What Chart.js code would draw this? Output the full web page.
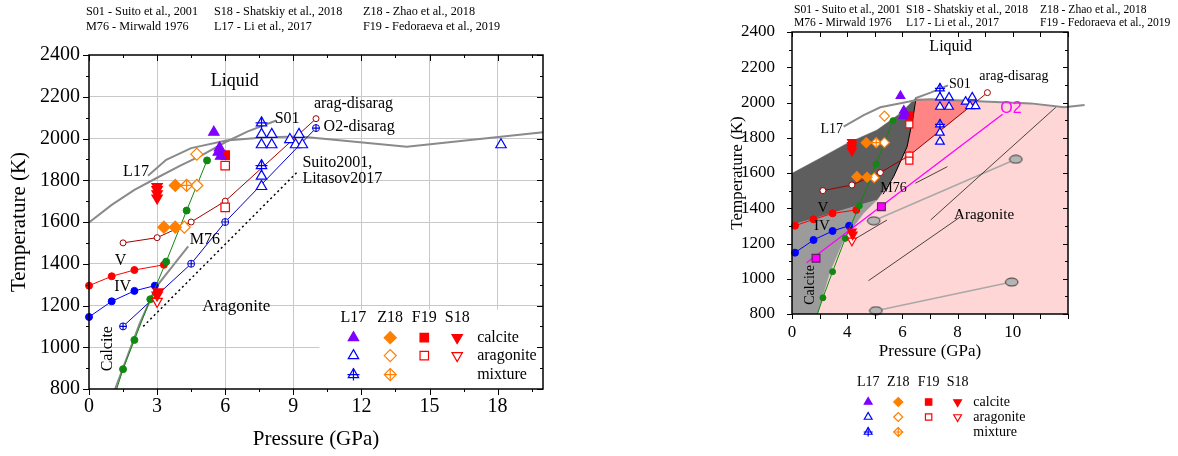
<!doctype html>
<html>
<head>
<meta charset="utf-8">
<title>CaCO3 phase diagram</title>
<script src="https://cdn.jsdelivr.net/npm/chart.js@4.4.1/dist/chart.umd.min.js"></script>
<style>
  body { margin: 0; background: #fff; }
  canvas { position: absolute; top: 0; }
</style>
</head>
<body>
<canvas id="left" width="590" height="456" style="left:0"></canvas>
<canvas id="right" width="588" height="456" style="left:590px"></canvas>
<script>
// ---------- left panel (P in GPa, T in K) ----------
var leftXTicks = [0, 3, 6, 9, 12, 15, 18];
var leftXMinor = [1.5, 4.5, 7.5, 10.5, 13.5, 16.5, 19.5];
var leftYTicks = [800, 1000, 1200, 1400, 1600, 1800, 2000, 2200, 2400];
var leftYMinor = [900, 1100, 1300, 1500, 1700, 1900, 2100, 2300];

var lS01 = [[0, 1598], [1, 1682], [2, 1754], [3, 1812], [4, 1869], [5, 1922], [6, 1982], [7, 2034], [8.25, 2086]];
var lL17 = [[2.6, 1821], [3.4, 1898], [4.5, 1954], [6.05, 1990], [7.8, 2006], [9.3, 2009], [14, 1961], [20, 2030]];
var lM76 = [[1.15, 800], [2.24, 1116], [2.97, 1291], [4.37, 1483]];
var lSuito = [[2.39, 1100], [9.2, 1842]];
var lV = [[0, 1295], [1, 1340], [2, 1370], [3.3, 1395]];
var lIV = [[0, 1145], [1, 1220], [2, 1270], [2.9, 1295]];
var lGreen = [[1.22, 800], [1.5, 895], [2, 1035], [2.7, 1230], [3.4, 1410], [4.3, 1655], [5.2, 1895]];
var lArag = [[1.5, 1500], [3, 1525], [4.5, 1600], [6, 1700], [10, 2095]];
var lO2 = [[1.5, 1100], [4.5, 1400], [6, 1600], [10, 2050]];

var lL17Calcite = [[5.5, 2030], [5.75, 1955], [5.7, 1935], [5.8, 1915]];
var lL17Arag = [[7.6, 2020], [8.05, 2020], [7.6, 1970], [8.05, 1970], [7.6, 1820], [7.6, 1770],
                [8.85, 1995], [9.25, 2020], [9.1, 1970], [9.4, 1970], [18.15, 1970]];
var lL17Mix = [[7.6, 2075], [7.6, 1870]];
var lZ18Calcite = [[3.8, 1775], [3.3, 1575], [3.8, 1575]];
var lZ18Arag = [[4.75, 1925], [4.75, 1775], [4.2, 1575]];
var lZ18Mix = [[4.3, 1775]];
var lF19Calcite = [[6, 1920]];
var lF19Arag = [[6, 1870], [6, 1670]];
var lS18Calcite = [[3, 1770], [3, 1755], [3, 1735], [3, 1715], [3.05, 1265], [3, 1250]];
var lS18Arag = [[3, 1220]];

// ---------- right panel ----------
var rightXTicks = [2, 4, 6, 8, 10];
var rightXLabels = ['0', '4', '6', '8', '10'];
var rightXMarks = [2, 3, 4, 5, 6, 7, 8, 9, 10, 11, 12];
var rightYTicks = [800, 1000, 1200, 1400, 1600, 1800, 2000, 2200, 2400];
var rightYMinor = [900, 1100, 1300, 1500, 1700, 1900, 2100, 2300];

var rPink = [[2.92, 800], [3.38, 1040], [3.87, 1220], [4.59, 1371], [5.08, 1447], [5.68, 1579], [6.17, 1749],
             [6.39, 1920], [6.47, 2020], [7.02, 2018], [10.65, 1995], [11.86, 1973], [12, 1975], [12, 800]];
var rSalmon = [[6.05, 1673], [6.17, 1749], [6.39, 1920], [6.47, 2020], [7.02, 2018], [8.75, 2012], [6.27, 1702]];
var rDark = [[2, 1598], [2.9, 1674], [3.99, 1768], [5.08, 1844], [5.93, 1939], [6.47, 2024], [6.39, 1920],
             [6.17, 1749], [5.68, 1579], [5.08, 1447], [2, 1305]];
var rMid = [[2, 1305], [5.08, 1447], [4.59, 1371], [3.87, 1220], [3.38, 1040], [2.92, 800], [2, 800]];

var rS01 = [[6.47, 2024], [7.02, 2056], [7.65, 2097]];
var rL17 = [[3.87, 1863], [4.6, 1929], [5.2, 1973], [6.53, 2014], [7.02, 2018], [10.65, 1995], [11.86, 1973], [12.6, 1986]];
var rBoundary = [[5.3, 1480], [5.68, 1579], [6.17, 1749], [6.39, 1920], [6.5, 2030]];
var rThin1 = [[4.11, 1210], [5.44, 1333]];
var rThin2 = [[4.77, 989], [8.11, 1352]];
var rThin3 = [[7.02, 1333], [11.56, 1973]];
var rThin4 = [[6.47, 1542], [7.63, 1636]];
var rGray1 = [[4.96, 1329], [10.11, 1678]];
var rGray2 = [[5.04, 819], [9.96, 981]];
var rV = [[2.11, 1301], [2.78, 1337], [3.47, 1371], [4.33, 1390]];
var rIV = [[2.11, 1148], [2.78, 1220], [3.47, 1271], [4.07, 1301]];
var rGreen = [[2.92, 800], [3.12, 892], [3.47, 1040], [3.93, 1229], [4.44, 1414], [5.05, 1651], [5.66, 1897]];
var rArag = [[3.12, 1500], [4.17, 1532], [5.2, 1602], [6.27, 1702], [9.08, 2056]];
var rO2 = [[2.53, 1091], [9.63, 1933]];
var rO2Points = [[2.87, 1116], [5.24, 1409]];

var rL17Calcite = [[5.93, 2037], [6.05, 1954], [6.03, 1923], [6.1, 1938]];
var rL17Arag = [[7.36, 2029], [7.69, 2029], [7.36, 1976], [7.69, 1976], [7.36, 1829], [7.36, 1778],
                [8.29, 2005], [8.53, 2029], [8.45, 1980], [8.65, 1980]];
var rL17Mix = [[7.36, 2080], [7.36, 1876]];
var rZ18Calcite = [[4.69, 1772], [4.35, 1579], [4.72, 1576]];
var rZ18Arag = [[5.35, 1923], [5.35, 1772], [4.98, 1573]];
var rZ18Mix = [[5.05, 1772]];
var rF19Calcite = [[6.25, 1925]];
var rF19Arag = [[6.25, 1876], [6.25, 1698], [6.25, 1670]];
var rS18Calcite = [[4.17, 1775], [4.17, 1758], [4.17, 1742], [4.17, 1725], [4.17, 1267], [4.2, 1250]];
var rS18Arag = [[4.17, 1216]];

// shared texts
var refLines = [
  ['S01 - Suito et al., 2001', 'S18 - Shatskiy et al., 2018', 'Z18 - Zhao et al., 2018'],
  ['M76 - Mirwald 1976', 'L17 - Li et al., 2017', 'F19 - Fedoraeva et al., 2019']
];
var legendSources = ['L17', 'Z18', 'F19', 'S18'];
var legendPhases = ['calcite', 'aragonite', 'mixture'];

var SERIF = '"Liberation Serif", "Times New Roman", serif';
var SANS = '"Liberation Sans", Arial, sans-serif';

// marker styles
var ST = {
  L17c: {shape: 'triangle', color: '#7f00ff', fill: '#7f00ff'},
  L17a: {shape: 'triangle', color: '#0000ff', fill: '#ffffff'},
  L17m: {shape: 'triangle', color: '#0000ff', fill: '#ffffff', cross: true},
  Z18c: {shape: 'rectRot', color: '#ff7f00', fill: '#ff7f00'},
  Z18a: {shape: 'rectRot', color: '#ff7f00', fill: '#ffffff'},
  Z18m: {shape: 'rectRot', color: '#ff7f00', fill: '#ffffff', cross: true},
  F19c: {shape: 'rect', color: '#ff0000', fill: '#ff0000'},
  F19a: {shape: 'rect', color: '#ff0000', fill: '#ffffff'},
  S18c: {shape: 'triangle', rot: 180, color: '#ff0000', fill: '#ff0000'},
  S18a: {shape: 'triangle', rot: 180, color: '#ff0000', fill: '#ffffff'}
};
// rows: calcite, aragonite, mixture; columns: L17, Z18, F19, S18
var legendMarks = [
  ['L17c', 'Z18c', 'F19c', 'S18c'],
  ['L17a', 'Z18a', 'F19a', 'S18a'],
  ['L17m', 'Z18m', null, null]
];

function pts(a) { return a.map(function (p) { return {x: p[0], y: p[1]}; }); }

function lineSet(data, color, width, extra) {
  return Object.assign({data: pts(data), borderColor: color, borderWidth: width, pointRadius: 0,
    pointHoverRadius: 0, fill: false, tension: 0, order: 50, clip: false}, extra || {});
}
function dots(color, r) {
  return {pointRadius: r, pointBackgroundColor: color, pointBorderColor: color, order: 40};
}
function markSet(data, st, r) {
  return {data: pts(data), showLine: false, pointStyle: st.shape, pointRotation: st.rot || 0,
    pointRadius: r, pointHoverRadius: r, pointBorderColor: st.color, pointBackgroundColor: st.fill,
    pointBorderWidth: 1.2, clip: false, order: 0};
}
function crossSet(data, color, r) {
  var d = markSet(data, {shape: 'cross', color: color, fill: color}, r);
  d.order = -1;
  return d;
}
function region(data, color, order) {
  return {data: pts(data), fill: 'shape', backgroundColor: color, borderColor: color, borderWidth: 0.5,
    pointRadius: 0, pointHoverRadius: 0, tension: 0, order: order};
}
function markers(list, r) {
  var out = [];
  list.forEach(function (m) {
    out.push(markSet(m[0], ST[m[1]], r));
    if (ST[m[1]].cross) out.push(crossSet(m[0], ST[m[1]].color, r));
  });
  return out;
}

// gray ellipse symbol for the right panel
var ellipse = document.createElement('canvas');
ellipse.width = 15; ellipse.height = 10;
(function () {
  var c = ellipse.getContext('2d');
  c.beginPath(); c.ellipse(7.5, 5, 6.3, 4, 0, 0, Math.PI * 2);
  c.fillStyle = '#b4b4b4'; c.fill();
  c.strokeStyle = '#333'; c.lineWidth = 1; c.stroke();
})();

var leftDatasets = [
  lineSet(lS01, '#8a8a8a', 2),
  lineSet(lL17, '#8a8a8a', 2),
  lineSet(lM76, '#8a8a8a', 2),
  lineSet(lSuito, '#000', 1.5, {borderDash: [2, 3]}),
  lineSet(lGreen, '#118811', 1, Object.assign(dots('#118811', 3.5), {
    pointRadius: function (c) { return c.dataIndex === 0 ? 0 : 3.5; }})),
  lineSet(lV, '#ff0000', 1, dots('#ff0000', 3.5)),
  lineSet(lIV, '#0000ff', 1, dots('#0000ff', 3.5)),
  lineSet(lArag, '#a00000', 1, {pointRadius: 3, pointBackgroundColor: '#fff', pointBorderColor: '#a00000', order: 40}),
  lineSet(lO2, '#0000cc', 1, {pointRadius: 3.5, pointBackgroundColor: '#fff', pointBorderColor: '#0000cc', order: 40}),
  crossSet(lO2, '#0000cc', 3.5)
].concat(markers([
  [lL17Calcite, 'L17c'], [lL17Arag, 'L17a'], [lL17Mix, 'L17m'],
  [lZ18Calcite, 'Z18c'], [lZ18Arag, 'Z18a'], [lZ18Mix, 'Z18m'],
  [lF19Calcite, 'F19c'], [lF19Arag, 'F19a'],
  [lS18Calcite, 'S18c'], [lS18Arag, 'S18a']
], 6));

var rightDatasets = [
  region(rPink, '#ffd6d6', 104),
  region(rSalmon, '#ff8585', 103),
  region(rDark, '#5e5e5e', 102),
  region(rMid, '#9b9b9b', 101),
  lineSet(rL17, '#8a8a8a', 2),
  lineSet(rS01, '#8a8a8a', 2),
  lineSet(rBoundary, '#000', 1),
  lineSet(rThin1, '#000', 0.7),
  lineSet(rThin2, '#000', 0.7),
  lineSet(rThin3, '#000', 0.7),
  lineSet(rThin4, '#000', 0.7),
  lineSet(rGray1, '#a8a8a8', 1.5, {pointRadius: 5, pointStyle: ellipse}),
  lineSet(rGray2, '#a8a8a8', 1.5, {pointRadius: 5, pointStyle: ellipse}),
  lineSet(rO2, '#ff00ff', 1.3),
  markSet(rO2Points, {shape: 'rect', color: '#602060', fill: '#ff00ff'}, 5.5),
  lineSet(rGreen, '#118811', 1, Object.assign(dots('#118811', 3), {
    pointRadius: function (c) { return c.dataIndex === 0 ? 0 : 3; }})),
  lineSet(rV, '#ff0000', 1, dots('#ff0000', 3.5)),
  lineSet(rIV, '#0000ff', 1, dots('#0000ff', 3.5)),
  lineSet(rArag, '#a00000', 1, {pointRadius: 3, pointBackgroundColor: '#fff', pointBorderColor: '#a00000', order: 40})
].concat(markers([
  [rL17Calcite, 'L17c'], [rL17Arag, 'L17a'], [rL17Mix, 'L17m'],
  [rZ18Calcite, 'Z18c'], [rZ18Arag, 'Z18a'], [rZ18Mix, 'Z18m'],
  [rF19Calcite, 'F19c'], [rF19Arag, 'F19a'],
  [rS18Calcite, 'S18c'], [rS18Arag, 'S18a']
], 5));

// text, frame and legend decorations per canvas
var decor = {
  left: {
    frame: {xMajor: leftXTicks, xMinor: leftXMinor, yMajor: leftYTicks, yMinor: leftYMinor, major: 6, minor: 3},
    whiteBox: [10.15, 20, 800, 1180],
    header: {size: 12.2, rows: [12, 27], cols: [86, 214, 363]},
    notes: [
      {t: 'Liquid', x: 6.42, y: 2272, s: 18},
      {t: 'S01', x: 8.18, y: 2094, s: 16, a: 'left'},
      {t: 'arag-disarag', x: 11.65, y: 2166, s: 16},
      {t: 'O2-disarag', x: 11.9, y: 2055, s: 16},
      {t: 'Suito2001,', x: 9.4, y: 1882, s: 16, a: 'left'},
      {t: 'Litasov2017', x: 9.4, y: 1805, s: 16, a: 'left'},
      {t: 'L17', x: 2.07, y: 1840, s: 16},
      {t: 'M76', x: 5.1, y: 1515, s: 16},
      {t: 'V', x: 1.39, y: 1416, s: 16},
      {t: 'IV', x: 1.48, y: 1288, s: 16},
      {t: 'Aragonite', x: 6.49, y: 1196, s: 17},
      {t: 'Calcite', x: 0.85, y: 993, s: 16, r: -90}
    ],
    legend: {cols: [11.65, 13.27, 14.77, 16.22], text: 17.1, head: 1142, rows: [1046, 960, 869], size: 16, r: 6, useY: true}
  },
  right: {
    frame: {xMajor: rightXMarks, xMinor: [], yMajor: rightYTicks, yMinor: rightYMinor, major: 5, minor: 3},
    header: {size: 11.6, rows: [10, 23], cols: [204, 316, 450]},
    notes: [
      {t: 'Liquid', x: 7.75, y: 2315, s: 16},
      {t: 'S01', x: 8.08, y: 2103, s: 14},
      {t: 'arag-disarag', x: 10.04, y: 2146, s: 14},
      {t: 'O2', x: 9.93, y: 1967, s: 16, c: '#ff00ff', f: SANS},
      {t: 'L17', x: 3.44, y: 1848, s: 14},
      {t: 'M76', x: 5.68, y: 1513, s: 14},
      {t: 'V', x: 3.12, y: 1400, s: 15},
      {t: 'IV', x: 3.08, y: 1299, s: 15},
      {t: 'Calcite', x: 2.65, y: 965, s: 14, r: -90},
      {t: 'Aragonite', x: 8.96, y: 1362, s: 15}
    ],
    legend: {cols: [4.76, 5.85, 6.95, 8.0], text: 8.57, head: 68, rows: [88, 103, 118], size: 14, r: 4.5, useY: false}
  }
};

function seg(ctx, x1, y1, x2, y2) { ctx.moveTo(x1, y1); ctx.lineTo(x2, y2); }

function drawMark(ctx, st, r, x, y) {
  var dp = Chart.helpers && Chart.helpers.drawPoint;
  if (!dp) return;
  ctx.lineWidth = 1.2;
  ctx.strokeStyle = st.color;
  ctx.fillStyle = st.fill;
  dp(ctx, {pointStyle: st.shape, rotation: st.rot || 0, radius: r, borderWidth: 1.2}, x, y);
  if (st.cross) dp(ctx, {pointStyle: 'cross', rotation: 0, radius: r, borderWidth: 1.2}, x, y);
}

var decorPlugin = {
  id: 'decor',
  beforeDatasetsDraw: function (chart) {
    var d = decor[chart.canvas.id], xs = chart.scales.x, ys = chart.scales.y;
    if (!d.whiteBox) return;
    var b = d.whiteBox, ctx = chart.ctx;
    var x1 = xs.getPixelForValue(b[0]), x2 = xs.getPixelForValue(b[1]);
    var y1 = ys.getPixelForValue(b[3]), y2 = ys.getPixelForValue(b[2]);
    ctx.save();
    ctx.fillStyle = '#fff';
    ctx.fillRect(x1, y1, x2 - x1, y2 - y1);
    ctx.restore();
  },
  afterDraw: function (chart) {
    var d = decor[chart.canvas.id], ctx = chart.ctx, a = chart.chartArea;
    var xs = chart.scales.x, ys = chart.scales.y, f = d.frame;
    ctx.save();

    // frame with ticks (outward on bottom/left, inward on top/right)
    ctx.beginPath();
    [[f.xMajor, f.major], [f.xMinor, f.minor]].forEach(function (g) {
      g[0].forEach(function (v) {
        var px = Math.round(xs.getPixelForValue(v)) + 0.5;
        seg(ctx, px, a.bottom, px, a.bottom + g[1]);
        seg(ctx, px, a.top, px, a.top + g[1]);
      });
    });
    [[f.yMajor, f.major], [f.yMinor, f.minor]].forEach(function (g) {
      g[0].forEach(function (v) {
        var py = Math.round(ys.getPixelForValue(v)) + 0.5;
        seg(ctx, a.left - g[1], py, a.left, py);
        seg(ctx, a.right - g[1], py, a.right, py);
      });
    });
    ctx.strokeStyle = '#000';
    ctx.lineWidth = 1;
    ctx.stroke();
    ctx.lineWidth = 1.5;
    ctx.strokeRect(a.left, a.top, a.right - a.left, a.bottom - a.top);

    // annotations
    ctx.textBaseline = 'middle';
    d.notes.forEach(function (n) {
      ctx.font = n.s + 'px ' + (n.f || SERIF);
      ctx.fillStyle = n.c || '#000';
      ctx.textAlign = n.a || 'center';
      var px = xs.getPixelForValue(n.x), py = ys.getPixelForValue(n.y);
      if (n.r) {
        ctx.save();
        ctx.translate(px, py);
        ctx.rotate(n.r * Math.PI / 180);
        ctx.fillText(n.t, 0, 0);
        ctx.restore();
      } else {
        ctx.fillText(n.t, px, py);
      }
    });

    // reference list at the top
    var h = d.header;
    ctx.font = h.size + 'px ' + SERIF;
    ctx.fillStyle = '#000';
    ctx.textAlign = 'left';
    refLines.forEach(function (row, i) {
      row.forEach(function (txt, j) { ctx.fillText(txt, h.cols[j], h.rows[i]); });
    });

    // marker legend
    var L = d.legend;
    function ly(v) { return L.useY ? ys.getPixelForValue(v) : a.bottom + v; }
    ctx.font = L.size + 'px ' + SERIF;
    ctx.textAlign = 'center';
    legendSources.forEach(function (s, j) { ctx.fillText(s, xs.getPixelForValue(L.cols[j]), ly(L.head)); });
    legendMarks.forEach(function (row, i) {
      row.forEach(function (key, j) {
        if (key) drawMark(ctx, ST[key], L.r, xs.getPixelForValue(L.cols[j]), ly(L.rows[i]));
      });
      ctx.fillStyle = '#000';
      ctx.font = L.size + 'px ' + SERIF;
      ctx.textAlign = 'left';
      ctx.fillText(legendPhases[i], xs.getPixelForValue(L.text), ly(L.rows[i]));
      ctx.textAlign = 'center';
    });
    ctx.restore();
  }
};

function axis(o) {
  return {
    type: 'linear', min: o.min, max: o.max,
    afterBuildTicks: function (s) { s.ticks = o.ticks.map(function (v) { return {value: v}; }); },
    afterFit: o.fit,
    ticks: {font: {family: SERIF, size: o.tickSize}, color: '#000', padding: o.pad, maxRotation: 0,
            autoSkip: false, callback: o.label},
    grid: o.grid || {display: false},
    border: {display: false},
    title: {display: true, text: o.title, color: '#000', font: {family: SERIF, size: o.titleSize},
            padding: {top: 4, bottom: 4}}
  };
}

function gridColor(lo, hi) {
  return {drawTicks: false, lineWidth: 1, color: function (c) {
    var v = c.tick && c.tick.value;
    return (v > lo && v < hi) ? '#c8c8c8' : 'rgba(0,0,0,0)';
  }};
}

function baseOptions(padding, scales) {
  return {
    responsive: false, animation: false, devicePixelRatio: 1, events: [],
    layout: {padding: padding},
    plugins: {legend: {display: false}, tooltip: {enabled: false}},
    scales: scales
  };
}

new Chart(document.getElementById('left'), {
  type: 'line',
  data: {datasets: leftDatasets},
  options: baseOptions({left: 3, right: 47, top: 55, bottom: 0}, {
    x: axis({min: 0, max: 20, ticks: leftXTicks, tickSize: 20, pad: 6, title: 'Pressure (GPa)', titleSize: 21,
             grid: gridColor(0, 20), fit: function (s) { s.height = 67; }}),
    y: axis({min: 800, max: 2400, ticks: leftYTicks, tickSize: 20, pad: 9, title: 'Temperature (K)', titleSize: 21,
             grid: gridColor(800, 2400), fit: function (s) { s.width = 86; }})
  }),
  plugins: [decorPlugin]
});

new Chart(document.getElementById('right'), {
  type: 'line',
  data: {datasets: rightDatasets},
  options: baseOptions({left: 133, right: 110, top: 32, bottom: 90}, {
    x: axis({min: 2, max: 12, ticks: rightXTicks, tickSize: 17, pad: 0, title: 'Pressure (GPa)', titleSize: 17,
             label: function (v) { return rightXLabels[rightXTicks.indexOf(v)]; },
             fit: function (s) { s.height = 52; }}),
    y: axis({min: 800, max: 2400, ticks: rightYTicks, tickSize: 17, pad: 9, title: 'Temperature (K)', titleSize: 17,
             fit: function (s) { s.width = 69; }})
  }),
  plugins: [decorPlugin]
});
</script>
</body>
</html>
